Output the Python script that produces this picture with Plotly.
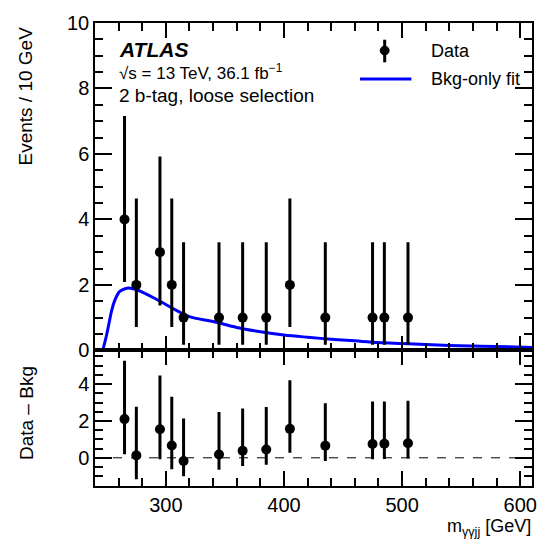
import plotly.graph_objects as go

# ---- data ----
mass = [265, 275, 295, 305, 315, 345, 365, 385, 405, 435, 475, 485, 505]
events = [4, 2, 3, 2, 1, 1, 1, 1, 2, 1, 1, 1, 1]
err_up = [3.16, 2.64, 2.92, 2.64, 2.30, 2.30, 2.30, 2.30, 2.64, 2.30, 2.30, 2.30, 2.30]
err_down = [1.91, 1.29, 1.63, 1.29, 0.83, 0.83, 0.83, 0.83, 1.29, 0.83, 0.83, 0.83, 0.83]
residual = [2.1, 0.13, 1.55, 0.67, -0.17, 0.18, 0.38, 0.45, 1.57, 0.66, 0.75, 0.76, 0.79]

fit_mass = [240, 246, 248, 250, 252, 254, 257, 261, 266, 270, 275, 280, 290, 300, 310,
            320, 340, 360, 380, 400, 420, 440, 460, 480, 500, 520, 540, 560, 580, 610]
fit_val = [0, 0, 0.2, 0.5, 0.85, 1.2, 1.55, 1.8, 1.89, 1.9, 1.86, 1.78, 1.6, 1.4, 1.2,
           1.03, 0.88, 0.7, 0.57, 0.47, 0.40, 0.34, 0.29, 0.24, 0.21, 0.18, 0.15, 0.13, 0.12, 0.09]

FONT = "Liberation Sans, Arial, Helvetica, sans-serif"
W, H = 549, 539
L, R, T, B = 95, 12, 15, 53
PW, PH = W - L - R, H - T - B
split = 138 / PH


def px(x):
    return (x - L) / PW


def py(y):
    return (H - B - y) / PH


fig = go.Figure()

fig.add_trace(go.Scatter(x=fit_mass, y=fit_val, mode="lines", line=dict(color="#0000ff", width=3, shape="spline"),
                         xaxis="x", yaxis="y", showlegend=False, name="Bkg-only fit"))
fig.add_trace(go.Scatter(x=mass, y=events, mode="markers", marker=dict(color="black", size=10),
                         error_y=dict(type="data", array=err_up, arrayminus=err_down, color="black", thickness=3, width=0),
                         xaxis="x", yaxis="y", showlegend=False, name="Data"))
fig.add_trace(go.Scatter(x=mass, y=residual, mode="markers", marker=dict(color="black", size=10),
                         error_y=dict(type="data", array=err_up, arrayminus=err_down, color="black", thickness=3, width=0),
                         xaxis="x2", yaxis="y2", showlegend=False, name="Data - Bkg"))

axis_common = dict(showline=True, linecolor="black", linewidth=1.5, mirror="allticks", ticks="inside",
                   tickcolor="black", tickwidth=1.5, showgrid=False, zeroline=False,
                   tickfont=dict(family=FONT, size=20, color="black"))

fig.update_layout(
    width=W, height=H,
    margin=dict(l=L, r=R, t=T, b=B),
    paper_bgcolor="white", plot_bgcolor="white",
    font=dict(family=FONT, color="black"),
    xaxis=dict(domain=[0, 1], anchor="y", range=[240, 610], dtick=100, tick0=0, ticklen=15,
               showticklabels=False, minor=dict(dtick=20, ticks="inside", ticklen=8, tickcolor="black", tickwidth=1.5),
               **axis_common),
    xaxis2=dict(domain=[0, 1], anchor="y2", range=[240, 610], dtick=100, tick0=0, ticklen=15,
                matches="x", minor=dict(dtick=20, ticks="inside", ticklen=8, tickcolor="black", tickwidth=1.5),
                **axis_common),
    yaxis=dict(domain=[split, 1], anchor="x", range=[0, 10], dtick=2, tick0=0, ticklen=17,
               minor=dict(dtick=0.5, ticks="inside", ticklen=8, tickcolor="black", tickwidth=1.5),
               **axis_common),
    yaxis2=dict(domain=[0, split], anchor="x2", range=[-1.53, 5.83], dtick=2, tick0=0, ticklen=17,
                minor=dict(dtick=0.5, ticks="inside", ticklen=8, tickcolor="black", tickwidth=1.5),
                **axis_common),
)

# dashed zero line in ratio panel
fig.add_shape(type="line", xref="x2 domain", yref="y2", x0=0, x1=1, y0=0, y1=0,
              line=dict(color="black", width=1, dash="dash"))

# manual legend
fig.add_shape(type="line", xref="paper", yref="paper", x0=px(388), x1=px(388), y0=py(32), y1=py(55),
              line=dict(color="black", width=3))
fig.add_shape(type="circle", xref="paper", yref="paper", x0=px(383.5), x1=px(392.5), y0=py(47.5), y1=py(38.5),
              fillcolor="black", line=dict(color="black", width=1))
fig.add_shape(type="line", xref="paper", yref="paper", x0=px(363), x1=px(415), y0=py(72), y1=py(72),
              line=dict(color="#0000ff", width=3))

annots = [
    dict(text="Data", x=px(433), y=py(43), xanchor="left", yanchor="middle", size=18),
    dict(text="Bkg-only fit", x=px(433), y=py(72), xanchor="left", yanchor="middle", size=18),
    dict(text="<b><i>ATLAS</i></b>", x=px(117), y=py(42), xanchor="left", yanchor="middle", size=21),
    dict(text="√s = 13 TeV, 36.1 fb<sup>−1</sup>", x=px(117), y=py(65), xanchor="left", yanchor="middle", size=17),
    dict(text="2 b-tag, loose selection", x=px(117), y=py(89), xanchor="left", yanchor="middle", size=19),
    dict(text="m<sub>γγjj</sub> [GeV]", x=px(538), y=py(528), xanchor="right", yanchor="middle", size=18),
]
for a in annots:
    fig.add_annotation(text=a["text"], x=a["x"], y=a["y"], xref="paper", yref="paper",
                       xanchor=a["xanchor"], yanchor=a["yanchor"], showarrow=False,
                       font=dict(family=FONT, size=a["size"], color="black"))

fig.add_annotation(text="Events / 10 GeV", x=px(25), y=py(89), xref="paper", yref="paper",
                   textangle=-90, showarrow=False, xanchor="center", yanchor="middle",
                   font=dict(family=FONT, size=19, color="black"))
fig.add_annotation(text="Data – Bkg", x=px(25), y=py(412), xref="paper", yref="paper",
                   textangle=-90, showarrow=False, xanchor="center", yanchor="middle",
                   font=dict(family=FONT, size=19, color="black"))

fig.write_html("out.html")
